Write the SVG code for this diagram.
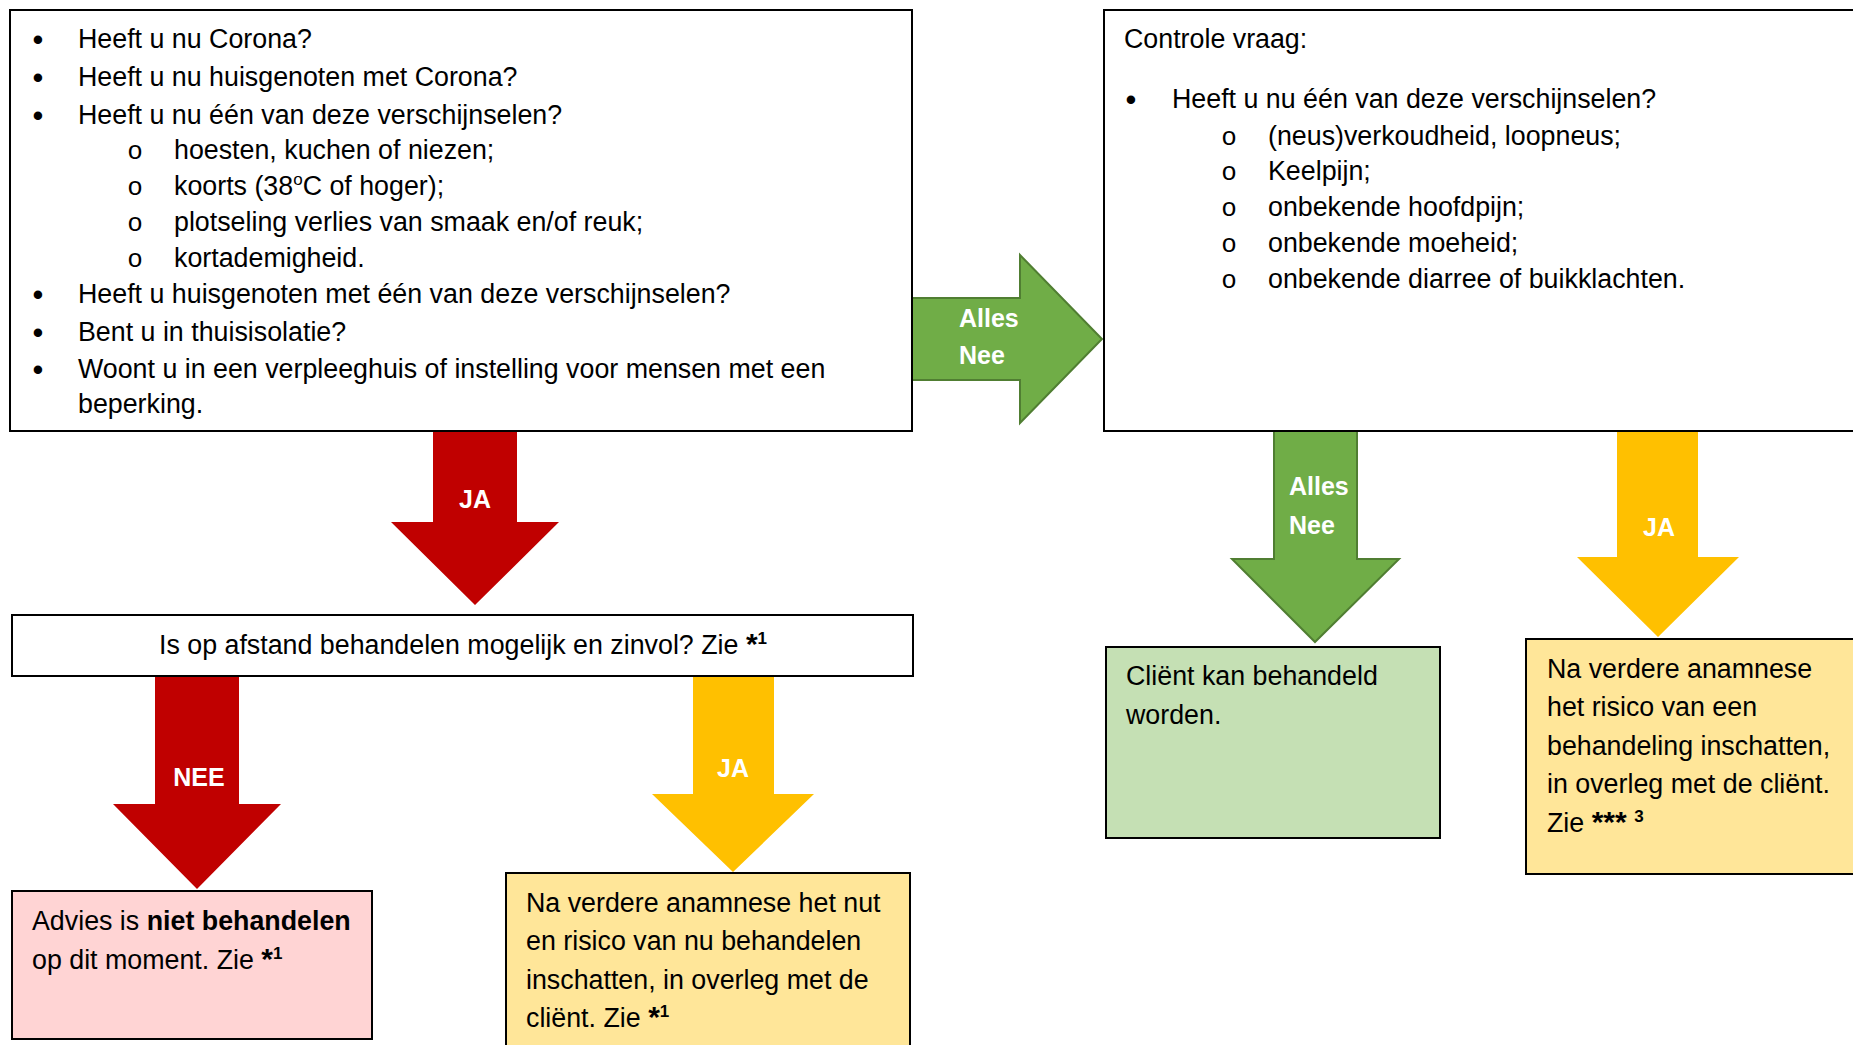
<svg xmlns="http://www.w3.org/2000/svg" width="1853" height="1045" viewBox="0 0 1853 1045">
<style>
  .t { font-family: "Liberation Sans", Arial, sans-serif; font-size: 26.8px; fill: #000; }
  .b { font-weight: bold; }
  .ast { font-weight: bold; font-size: 30px; }
  .bul { font-family: "Liberation Sans", Arial, sans-serif; font-size: 31px; fill: #000; }
  .lbl { font-family: "Liberation Sans", Arial, sans-serif; font-size: 25px; font-weight: bold; fill: #fff; }
  .sub { font-family: "Liberation Mono", "Courier New", monospace; font-size: 26px; fill: #000; }
  .box { stroke: #000; stroke-width: 2; }
  .red { fill: #C00000; }
  .grn { fill: #70AD47; stroke: #507E32; stroke-width: 2; }
  .yel { fill: #FFC000; }
</style>
<rect width="1853" height="1045" fill="#fff"/>
<g id="connectors">
  <polygon class="grn" points="912,298 1020,298 1020,255 1102,339 1020,423 1020,380 912,380"/>
  <text class="lbl" x="959" y="327">Alles</text>
  <text class="lbl" x="959" y="364">Nee</text>
  <polygon class="red" points="433,431 517,431 517,522 559,522 475,605 391,522 433,522"/>
  <text class="lbl" x="475" y="508" text-anchor="middle">JA</text>
  <polygon class="red" points="155,676 239,676 239,804 281,804 197,889 113,804 155,804"/>
  <text class="lbl" x="199" y="786" text-anchor="middle">NEE</text>
  <polygon class="yel" points="693,677 774,677 774,794 814,794 733,872 652,794 693,794"/>
  <text class="lbl" x="733" y="777" text-anchor="middle">JA</text>
  <polygon class="grn" points="1274,431 1357,431 1357,559 1399,559 1315,642 1232,559 1274,559"/>
  <text class="lbl" x="1289" y="495">Alles</text>
  <text class="lbl" x="1289" y="534">Nee</text>
  <polygon class="yel" points="1617,431 1698,431 1698,557 1739,557 1658,637 1577,557 1617,557"/>
  <text class="lbl" x="1659" y="536" text-anchor="middle">JA</text>
</g>
<g id="vragen">
  <rect class="box" x="10" y="10" width="902" height="421" fill="#fff"/>
  <g class="bul" text-anchor="middle">
    <text x="38" y="50">•</text>
    <text x="38" y="88">•</text>
    <text x="38" y="126">•</text>
    <text x="38" y="305">•</text>
    <text x="38" y="343">•</text>
    <text x="38" y="380">•</text>
  </g>
  <g class="t">
    <text x="78" y="48">Heeft u nu Corona?</text>
    <text x="78" y="86">Heeft u nu huisgenoten met Corona?</text>
    <text x="78" y="124">Heeft u nu één van deze verschijnselen?</text>
    <text x="78" y="303">Heeft u huisgenoten met één van deze verschijnselen?</text>
    <text x="78" y="341">Bent u in thuisisolatie?</text>
    <text x="78" y="378">Woont u in een verpleeghuis of instelling voor mensen met een</text>
    <text x="78" y="413">beperking.</text>
    <text x="174" y="159">hoesten, kuchen of niezen;</text>
    <text x="174" y="195">koorts (38<tspan font-size="17" dy="-10">o</tspan><tspan dy="10">C of hoger);</tspan></text>
    <text x="174" y="231">plotseling verlies van smaak en/of reuk;</text>
    <text x="174" y="267">kortademigheid.</text>
  </g>
  <g class="sub" text-anchor="middle">
    <text x="135" y="159">o</text>
    <text x="135" y="195">o</text>
    <text x="135" y="231">o</text>
    <text x="135" y="267">o</text>
  </g>
</g>
<g id="controle">
  <rect class="box" x="1104" y="10" width="760" height="421" fill="#fff"/>
  <text class="bul" x="1131" y="110" text-anchor="middle">•</text>
  <g class="t">
    <text x="1124" y="48">Controle vraag:</text>
    <text x="1172" y="108">Heeft u nu één van deze verschijnselen?</text>
    <text x="1268" y="145">(neus)verkoudheid, loopneus;</text>
    <text x="1268" y="180">Keelpijn;</text>
    <text x="1268" y="216">onbekende hoofdpijn;</text>
    <text x="1268" y="252">onbekende moeheid;</text>
    <text x="1268" y="288">onbekende diarree of buikklachten.</text>
  </g>
  <g class="sub" text-anchor="middle">
    <text x="1229" y="145">o</text>
    <text x="1229" y="180">o</text>
    <text x="1229" y="216">o</text>
    <text x="1229" y="252">o</text>
    <text x="1229" y="288">o</text>
  </g>
</g>
<g id="afstand">
  <rect class="box" x="12" y="615" width="901" height="61" fill="#fff"/>
  <text class="t" x="463" y="654" text-anchor="middle">Is op afstand behandelen mogelijk en zinvol? Zie <tspan class="ast">*</tspan><tspan class="b" font-size="17" dy="-10">1</tspan></text>
</g>
<g id="niet-behandelen">
  <rect class="box" x="12" y="891" width="360" height="148" fill="#FFD4D4"/>
  <text class="t" x="32" y="930">Advies is <tspan class="b">niet behandelen</tspan></text>
  <text class="t" x="32" y="969">op dit moment. Zie <tspan class="ast">*</tspan><tspan class="b" font-size="17" dy="-10">1</tspan></text>
</g>
<g id="nut-risico">
  <rect class="box" x="506" y="873" width="404" height="190" fill="#FFE699"/>
  <text class="t" x="526" y="912">Na verdere anamnese het nut</text>
  <text class="t" x="526" y="950">en risico van nu behandelen</text>
  <text class="t" x="526" y="989">inschatten, in overleg met de</text>
  <text class="t" x="526" y="1027">cliënt. Zie <tspan class="ast">*</tspan><tspan class="b" font-size="17" dy="-10">1</tspan></text>
</g>
<g id="kan-behandeld">
  <rect class="box" x="1106" y="647" width="334" height="191" fill="#C5E0B4"/>
  <text class="t" x="1126" y="685">Cliënt kan behandeld</text>
  <text class="t" x="1126" y="724">worden.</text>
</g>
<g id="risico">
  <rect class="box" x="1526" y="639" width="340" height="235" fill="#FFE699"/>
  <text class="t" x="1547" y="678">Na verdere anamnese</text>
  <text class="t" x="1547" y="716">het risico van een</text>
  <text class="t" x="1547" y="755">behandeling inschatten,</text>
  <text class="t" x="1547" y="793">in overleg met de cliënt.</text>
  <text class="t" x="1547" y="832">Zie <tspan class="ast">***</tspan> <tspan class="b" font-size="17" dy="-10">3</tspan></text>
</g>
</svg>
